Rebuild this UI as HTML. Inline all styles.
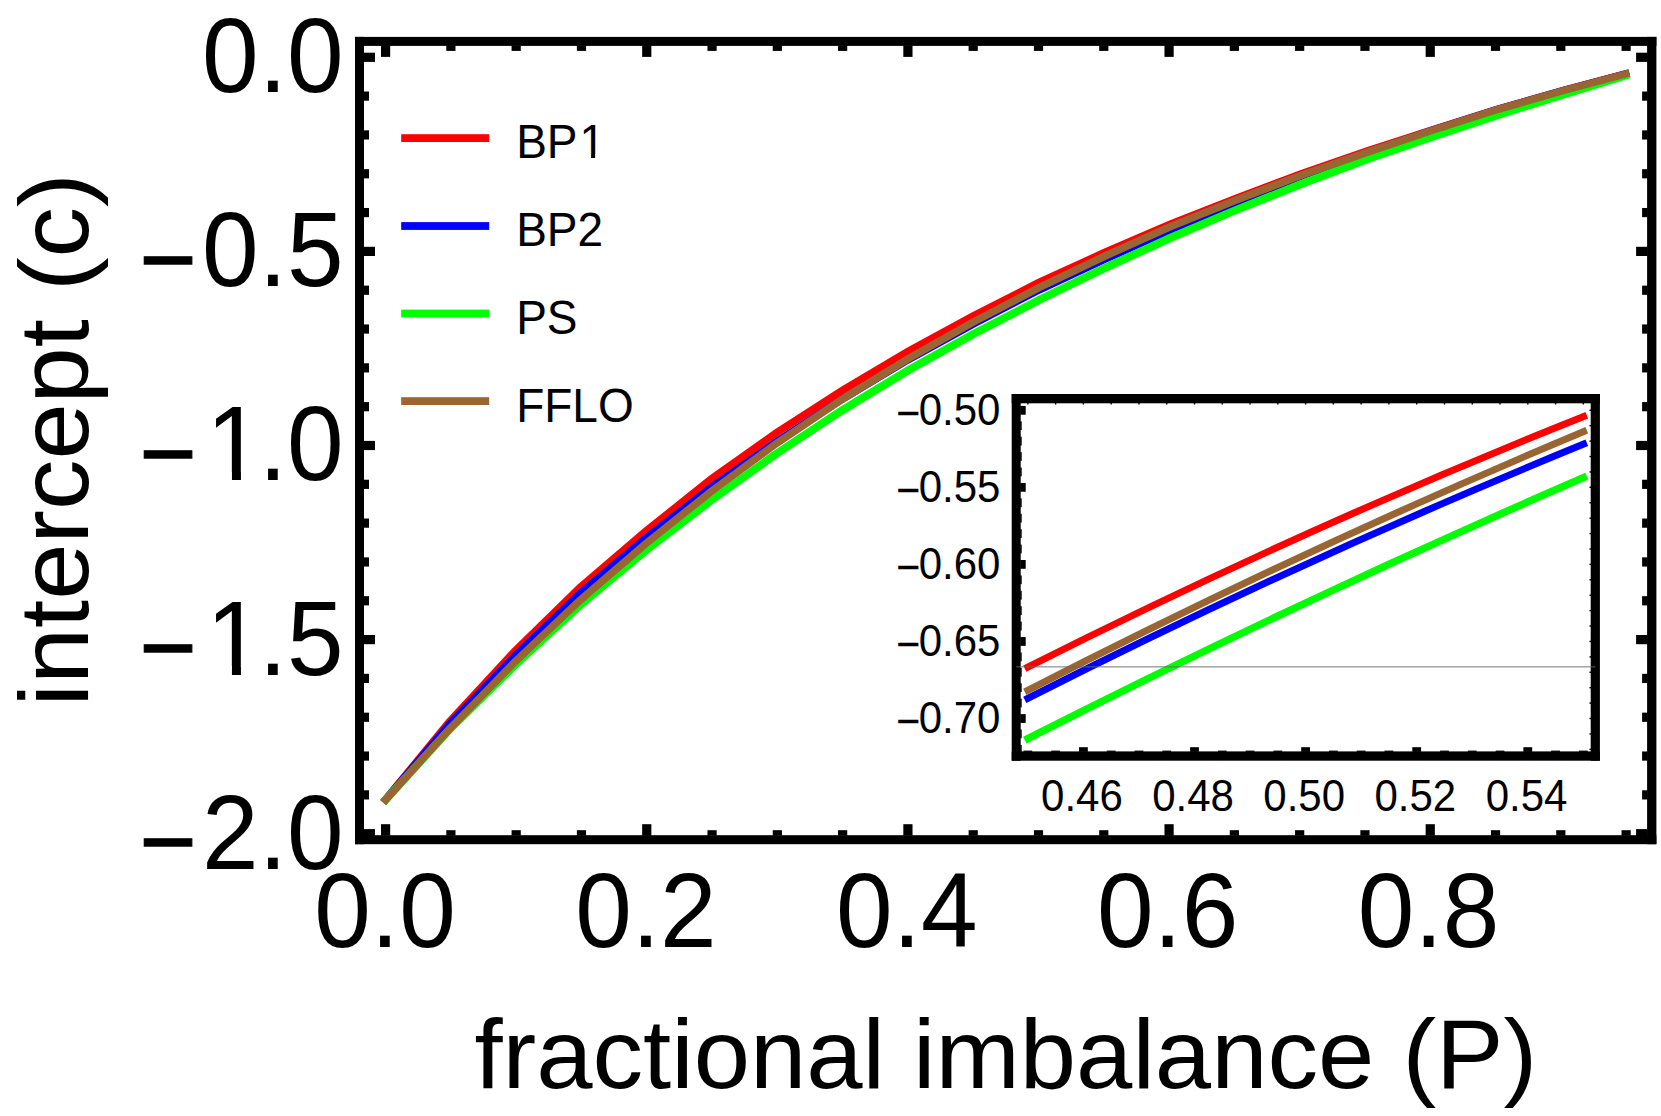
<!DOCTYPE html>
<html lang="en"><head><meta charset="utf-8"><title>intercept (c) vs fractional imbalance (P)</title>
<style>html,body{margin:0;padding:0;background:#ffffff;}body{width:1661px;height:1116px;overflow:hidden;}svg{display:block;}</style>
</head><body>
<svg width="1661" height="1116" viewBox="0 0 1661 1116">
<rect x="0" y="0" width="1661" height="1116" fill="#ffffff"/>
<g id="curves">
<polyline points="383.20,802.50 448.78,722.50 514.36,651.60 579.94,587.50 645.52,531.50 711.10,479.00 776.68,432.65 842.26,390.50 907.84,351.40 973.42,315.75 1039.00,282.50 1104.58,252.50 1170.16,224.10 1235.74,198.45 1301.32,173.70 1366.90,151.10 1432.48,129.70 1498.06,109.00 1563.64,90.30 1629.30,73.00" fill="none" stroke="#ff0000" stroke-width="7.5" stroke-linejoin="miter"/>
<polyline points="383.20,802.50 448.78,724.90 514.36,656.65 579.94,593.60 645.52,538.50 711.10,487.50 776.68,441.65 842.26,399.20 907.84,359.90 973.42,323.90 1039.00,290.00 1104.58,259.45 1170.16,230.10 1235.74,202.45 1301.32,175.90 1366.90,152.80 1432.48,130.40 1498.06,109.30 1563.64,90.50 1629.30,73.00" fill="none" stroke="#0000ff" stroke-width="7.5" stroke-linejoin="miter"/>
<polyline points="383.20,802.50 448.78,730.20 514.36,665.55 579.94,605.20 645.52,550.60 711.10,500.35 776.68,453.50 842.26,410.25 907.84,370.55 973.42,334.05 1039.00,300.00 1104.58,268.15 1170.16,238.00 1235.74,210.15 1301.32,183.95 1366.90,159.30 1432.48,136.75 1498.06,114.85 1563.64,94.35 1629.30,74.40" fill="none" stroke="#00ff00" stroke-width="8.0" stroke-linejoin="miter"/>
<polyline points="383.20,802.50 448.78,729.70 514.36,662.30 579.94,600.30 645.52,543.90 711.10,491.50 776.68,443.30 842.26,399.20 907.84,359.10 973.42,321.95 1039.00,287.70 1104.58,256.25 1170.16,226.80 1235.74,200.25 1301.32,175.15 1366.90,152.40 1432.48,130.20 1498.06,109.30 1563.64,90.50 1629.30,73.00" fill="none" stroke="#996633" stroke-width="7.5" stroke-linejoin="miter"/>
</g>
<g id="frame" fill="#000000">
<rect x="355.00" y="36.90" width="9.00" height="807.30"/>
<rect x="1647.10" y="36.90" width="9.30" height="807.30"/>
<rect x="355.00" y="36.90" width="1301.40" height="9.00"/>
<rect x="355.00" y="835.20" width="1301.40" height="9.00"/>
<rect x="381.00" y="45.40" width="9.20" height="11.50"/>
<rect x="381.00" y="824.20" width="9.20" height="11.50"/>
<rect x="446.29" y="45.40" width="9.20" height="5.50"/>
<rect x="446.29" y="830.20" width="9.20" height="5.50"/>
<rect x="511.58" y="45.40" width="9.20" height="5.50"/>
<rect x="511.58" y="830.20" width="9.20" height="5.50"/>
<rect x="576.87" y="45.40" width="9.20" height="5.50"/>
<rect x="576.87" y="830.20" width="9.20" height="5.50"/>
<rect x="642.16" y="45.40" width="9.20" height="11.50"/>
<rect x="642.16" y="824.20" width="9.20" height="11.50"/>
<rect x="707.45" y="45.40" width="9.20" height="5.50"/>
<rect x="707.45" y="830.20" width="9.20" height="5.50"/>
<rect x="772.74" y="45.40" width="9.20" height="5.50"/>
<rect x="772.74" y="830.20" width="9.20" height="5.50"/>
<rect x="838.03" y="45.40" width="9.20" height="5.50"/>
<rect x="838.03" y="830.20" width="9.20" height="5.50"/>
<rect x="903.32" y="45.40" width="9.20" height="11.50"/>
<rect x="903.32" y="824.20" width="9.20" height="11.50"/>
<rect x="968.61" y="45.40" width="9.20" height="5.50"/>
<rect x="968.61" y="830.20" width="9.20" height="5.50"/>
<rect x="1033.90" y="45.40" width="9.20" height="5.50"/>
<rect x="1033.90" y="830.20" width="9.20" height="5.50"/>
<rect x="1099.19" y="45.40" width="9.20" height="5.50"/>
<rect x="1099.19" y="830.20" width="9.20" height="5.50"/>
<rect x="1164.48" y="45.40" width="9.20" height="11.50"/>
<rect x="1164.48" y="824.20" width="9.20" height="11.50"/>
<rect x="1229.77" y="45.40" width="9.20" height="5.50"/>
<rect x="1229.77" y="830.20" width="9.20" height="5.50"/>
<rect x="1295.06" y="45.40" width="9.20" height="5.50"/>
<rect x="1295.06" y="830.20" width="9.20" height="5.50"/>
<rect x="1360.35" y="45.40" width="9.20" height="5.50"/>
<rect x="1360.35" y="830.20" width="9.20" height="5.50"/>
<rect x="1425.64" y="45.40" width="9.20" height="11.50"/>
<rect x="1425.64" y="824.20" width="9.20" height="11.50"/>
<rect x="1490.93" y="45.40" width="9.20" height="5.50"/>
<rect x="1490.93" y="830.20" width="9.20" height="5.50"/>
<rect x="1556.22" y="45.40" width="9.20" height="5.50"/>
<rect x="1556.22" y="830.20" width="9.20" height="5.50"/>
<rect x="1621.51" y="45.40" width="9.20" height="5.50"/>
<rect x="1621.51" y="830.20" width="9.20" height="5.50"/>
<rect x="363.50" y="52.70" width="11.50" height="9.20"/>
<rect x="1636.10" y="52.70" width="11.50" height="9.20"/>
<rect x="363.50" y="91.52" width="5.50" height="9.20"/>
<rect x="1642.10" y="91.52" width="5.50" height="9.20"/>
<rect x="363.50" y="130.34" width="5.50" height="9.20"/>
<rect x="1642.10" y="130.34" width="5.50" height="9.20"/>
<rect x="363.50" y="169.16" width="5.50" height="9.20"/>
<rect x="1642.10" y="169.16" width="5.50" height="9.20"/>
<rect x="363.50" y="207.98" width="5.50" height="9.20"/>
<rect x="1642.10" y="207.98" width="5.50" height="9.20"/>
<rect x="363.50" y="246.80" width="11.50" height="9.20"/>
<rect x="1636.10" y="246.80" width="11.50" height="9.20"/>
<rect x="363.50" y="285.62" width="5.50" height="9.20"/>
<rect x="1642.10" y="285.62" width="5.50" height="9.20"/>
<rect x="363.50" y="324.44" width="5.50" height="9.20"/>
<rect x="1642.10" y="324.44" width="5.50" height="9.20"/>
<rect x="363.50" y="363.26" width="5.50" height="9.20"/>
<rect x="1642.10" y="363.26" width="5.50" height="9.20"/>
<rect x="363.50" y="402.08" width="5.50" height="9.20"/>
<rect x="1642.10" y="402.08" width="5.50" height="9.20"/>
<rect x="363.50" y="440.90" width="11.50" height="9.20"/>
<rect x="1636.10" y="440.90" width="11.50" height="9.20"/>
<rect x="363.50" y="479.72" width="5.50" height="9.20"/>
<rect x="1642.10" y="479.72" width="5.50" height="9.20"/>
<rect x="363.50" y="518.54" width="5.50" height="9.20"/>
<rect x="1642.10" y="518.54" width="5.50" height="9.20"/>
<rect x="363.50" y="557.36" width="5.50" height="9.20"/>
<rect x="1642.10" y="557.36" width="5.50" height="9.20"/>
<rect x="363.50" y="596.18" width="5.50" height="9.20"/>
<rect x="1642.10" y="596.18" width="5.50" height="9.20"/>
<rect x="363.50" y="635.00" width="11.50" height="9.20"/>
<rect x="1636.10" y="635.00" width="11.50" height="9.20"/>
<rect x="363.50" y="673.82" width="5.50" height="9.20"/>
<rect x="1642.10" y="673.82" width="5.50" height="9.20"/>
<rect x="363.50" y="712.64" width="5.50" height="9.20"/>
<rect x="1642.10" y="712.64" width="5.50" height="9.20"/>
<rect x="363.50" y="751.46" width="5.50" height="9.20"/>
<rect x="1642.10" y="751.46" width="5.50" height="9.20"/>
<rect x="363.50" y="790.28" width="5.50" height="9.20"/>
<rect x="1642.10" y="790.28" width="5.50" height="9.20"/>
<rect x="363.50" y="829.10" width="11.50" height="9.20"/>
<rect x="1636.10" y="829.10" width="11.50" height="9.20"/>
</g>
<g id="ylabels">
<text transform="translate(343.60,92.10) scale(1,1.033)" font-family="Liberation Sans, Arial, Helvetica, sans-serif" font-size="101.80" text-anchor="end" fill="#000">0.0</text>
<text transform="translate(0,286.25) scale(1,1.033)" font-family="Liberation Sans, Arial, Helvetica, sans-serif" font-size="101.80" fill="#000"><tspan x="139.48" y="7.03" font-size="97.73" stroke="#000" stroke-width="1.20">−</tspan><tspan x="202.08" y="0">0.5</tspan></text>
<text transform="translate(0,480.40) scale(1,1.033)" font-family="Liberation Sans, Arial, Helvetica, sans-serif" font-size="101.80" fill="#000"><tspan x="139.48" y="7.03" font-size="97.73" stroke="#000" stroke-width="1.20">−</tspan><tspan x="206.35" y="0">1</tspan><tspan x="258.70" y="0">.0</tspan></text>
<rect x="211.44" y="471.94" width="20.51" height="9.46" fill="#ffffff"/>
<rect x="240.94" y="471.94" width="19.34" height="9.46" fill="#ffffff"/>
<text transform="translate(0,674.55) scale(1,1.033)" font-family="Liberation Sans, Arial, Helvetica, sans-serif" font-size="101.80" fill="#000"><tspan x="139.48" y="7.03" font-size="97.73" stroke="#000" stroke-width="1.20">−</tspan><tspan x="206.35" y="0">1</tspan><tspan x="258.70" y="0">.5</tspan></text>
<rect x="211.44" y="666.09" width="20.51" height="9.46" fill="#ffffff"/>
<rect x="240.94" y="666.09" width="19.34" height="9.46" fill="#ffffff"/>
<text transform="translate(0,868.70) scale(1,1.033)" font-family="Liberation Sans, Arial, Helvetica, sans-serif" font-size="101.80" fill="#000"><tspan x="139.48" y="7.03" font-size="97.73" stroke="#000" stroke-width="1.20">−</tspan><tspan x="202.08" y="0">2.0</tspan></text>
</g>
<g id="xlabels">
<text transform="translate(385.00,947.00) scale(1,1.033)" font-family="Liberation Sans, Arial, Helvetica, sans-serif" font-size="101.80" text-anchor="middle" fill="#000">0.0</text>
<text transform="translate(645.90,947.00) scale(1,1.033)" font-family="Liberation Sans, Arial, Helvetica, sans-serif" font-size="101.80" text-anchor="middle" fill="#000">0.2</text>
<text transform="translate(906.80,947.00) scale(1,1.033)" font-family="Liberation Sans, Arial, Helvetica, sans-serif" font-size="101.80" text-anchor="middle" fill="#000">0.4</text>
<text transform="translate(1167.70,947.00) scale(1,1.033)" font-family="Liberation Sans, Arial, Helvetica, sans-serif" font-size="101.80" text-anchor="middle" fill="#000">0.6</text>
<text transform="translate(1428.60,947.00) scale(1,1.033)" font-family="Liberation Sans, Arial, Helvetica, sans-serif" font-size="101.80" text-anchor="middle" fill="#000">0.8</text>
</g>
<text transform="translate(474.4,1088.4) scale(1,0.979)" font-family="Liberation Sans, Arial, Helvetica, sans-serif" font-size="101.2" fill="#000">fractional imbalance (P)</text>
<text transform="translate(87.8,706.5) rotate(-90) scale(1,0.979)" font-family="Liberation Sans, Arial, Helvetica, sans-serif" font-size="101" fill="#000">intercept (c)</text>
<g id="legend">
<rect x="401.2" y="134.20" width="88.0" height="7.8" fill="#ff0000"/>
<text transform="translate(0,158.20) scale(1,1.040)" font-family="Liberation Sans, Arial, Helvetica, sans-serif" font-size="46.00" fill="#000"><tspan x="516.20" y="0">BP</tspan><tspan x="579.50" y="0">1</tspan></text>
<rect x="581.80" y="154.03" width="9.27" height="5.17" fill="#ffffff"/>
<rect x="595.13" y="154.03" width="8.74" height="5.17" fill="#ffffff"/>
<rect x="401.2" y="222.10" width="88.0" height="7.8" fill="#0000ff"/>
<text transform="translate(516.20,246.05) scale(1,1.040)" font-family="Liberation Sans, Arial, Helvetica, sans-serif" font-size="46.00" text-anchor="start" fill="#000">BP2</text>
<rect x="401.2" y="309.60" width="88.0" height="7.8" fill="#00ff00"/>
<text transform="translate(516.20,333.90) scale(1,1.040)" font-family="Liberation Sans, Arial, Helvetica, sans-serif" font-size="46.00" text-anchor="start" fill="#000">PS</text>
<rect x="401.2" y="397.20" width="88.0" height="7.8" fill="#996633"/>
<text transform="translate(516.20,421.75) scale(1,1.040)" font-family="Liberation Sans, Arial, Helvetica, sans-serif" font-size="46.00" text-anchor="start" fill="#000">FFLO</text>
</g>
<g id="inset">
<rect x="1011.70" y="394.00" width="588.20" height="366.70" fill="#ffffff"/>
<path d="M1024.80 668.60 Q1305.80 526.90 1586.80 415.20" fill="none" stroke="#ff0000" stroke-width="7.0"/>
<path d="M1024.80 699.90 Q1305.80 557.45 1586.80 442.80" fill="none" stroke="#0000ff" stroke-width="7.0"/>
<path d="M1024.80 740.10 Q1305.80 597.45 1586.80 476.20" fill="none" stroke="#00ff00" stroke-width="7.4"/>
<path d="M1024.80 691.90 Q1305.80 547.75 1586.80 430.20" fill="none" stroke="#996633" stroke-width="7.0"/>
<g fill="#000000">
<rect x="1011.70" y="394.00" width="9.00" height="366.70"/>
<rect x="1590.70" y="394.00" width="9.20" height="366.70"/>
<rect x="1011.70" y="394.00" width="588.20" height="9.30"/>
<rect x="1011.70" y="751.40" width="588.20" height="9.30"/>
<rect x="1020.20" y="405.90" width="5.50" height="8.80"/>
<rect x="1589.50" y="409.60" width="1.70" height="1.40"/>
<rect x="1020.20" y="421.31" width="1.50" height="8.80"/>
<rect x="1589.50" y="425.01" width="1.70" height="1.40"/>
<rect x="1020.20" y="436.72" width="1.50" height="8.80"/>
<rect x="1589.50" y="440.42" width="1.70" height="1.40"/>
<rect x="1020.20" y="452.13" width="1.50" height="8.80"/>
<rect x="1589.50" y="455.83" width="1.70" height="1.40"/>
<rect x="1020.20" y="467.54" width="1.50" height="8.80"/>
<rect x="1589.50" y="471.24" width="1.70" height="1.40"/>
<rect x="1020.20" y="482.95" width="5.50" height="8.80"/>
<rect x="1589.50" y="486.65" width="1.70" height="1.40"/>
<rect x="1020.20" y="498.36" width="1.50" height="8.80"/>
<rect x="1589.50" y="502.06" width="1.70" height="1.40"/>
<rect x="1020.20" y="513.77" width="1.50" height="8.80"/>
<rect x="1589.50" y="517.47" width="1.70" height="1.40"/>
<rect x="1020.20" y="529.18" width="1.50" height="8.80"/>
<rect x="1589.50" y="532.88" width="1.70" height="1.40"/>
<rect x="1020.20" y="544.59" width="1.50" height="8.80"/>
<rect x="1589.50" y="548.29" width="1.70" height="1.40"/>
<rect x="1020.20" y="560.00" width="5.50" height="8.80"/>
<rect x="1589.50" y="563.70" width="1.70" height="1.40"/>
<rect x="1020.20" y="575.41" width="1.50" height="8.80"/>
<rect x="1589.50" y="579.11" width="1.70" height="1.40"/>
<rect x="1020.20" y="590.82" width="1.50" height="8.80"/>
<rect x="1589.50" y="594.52" width="1.70" height="1.40"/>
<rect x="1020.20" y="606.23" width="1.50" height="8.80"/>
<rect x="1589.50" y="609.93" width="1.70" height="1.40"/>
<rect x="1020.20" y="621.64" width="1.50" height="8.80"/>
<rect x="1589.50" y="625.34" width="1.70" height="1.40"/>
<rect x="1020.20" y="637.05" width="5.50" height="8.80"/>
<rect x="1589.50" y="640.75" width="1.70" height="1.40"/>
<rect x="1020.20" y="652.46" width="1.50" height="8.80"/>
<rect x="1589.50" y="656.16" width="1.70" height="1.40"/>
<rect x="1020.20" y="667.87" width="1.50" height="8.80"/>
<rect x="1589.50" y="671.57" width="1.70" height="1.40"/>
<rect x="1020.20" y="683.28" width="1.50" height="8.80"/>
<rect x="1589.50" y="686.98" width="1.70" height="1.40"/>
<rect x="1020.20" y="698.69" width="1.50" height="8.80"/>
<rect x="1589.50" y="702.39" width="1.70" height="1.40"/>
<rect x="1020.20" y="714.10" width="5.50" height="8.80"/>
<rect x="1589.50" y="717.80" width="1.70" height="1.40"/>
<rect x="1020.20" y="729.51" width="1.50" height="8.80"/>
<rect x="1589.50" y="733.21" width="1.70" height="1.40"/>
<rect x="1020.20" y="744.92" width="1.50" height="8.80"/>
<rect x="1589.50" y="748.62" width="1.70" height="1.40"/>
<rect x="1023.45" y="750.60" width="8.80" height="1.30"/>
<rect x="1027.15" y="402.80" width="1.40" height="1.70"/>
<rect x="1051.22" y="750.60" width="8.80" height="1.30"/>
<rect x="1054.92" y="402.80" width="1.40" height="1.70"/>
<rect x="1079.00" y="747.20" width="8.80" height="4.70"/>
<rect x="1082.70" y="402.80" width="1.40" height="1.70"/>
<rect x="1106.78" y="750.60" width="8.80" height="1.30"/>
<rect x="1110.48" y="402.80" width="1.40" height="1.70"/>
<rect x="1134.55" y="750.60" width="8.80" height="1.30"/>
<rect x="1138.25" y="402.80" width="1.40" height="1.70"/>
<rect x="1162.33" y="750.60" width="8.80" height="1.30"/>
<rect x="1166.03" y="402.80" width="1.40" height="1.70"/>
<rect x="1190.10" y="747.20" width="8.80" height="4.70"/>
<rect x="1193.80" y="402.80" width="1.40" height="1.70"/>
<rect x="1217.88" y="750.60" width="8.80" height="1.30"/>
<rect x="1221.58" y="402.80" width="1.40" height="1.70"/>
<rect x="1245.65" y="750.60" width="8.80" height="1.30"/>
<rect x="1249.35" y="402.80" width="1.40" height="1.70"/>
<rect x="1273.42" y="750.60" width="8.80" height="1.30"/>
<rect x="1277.12" y="402.80" width="1.40" height="1.70"/>
<rect x="1301.20" y="747.20" width="8.80" height="4.70"/>
<rect x="1304.90" y="402.80" width="1.40" height="1.70"/>
<rect x="1328.97" y="750.60" width="8.80" height="1.30"/>
<rect x="1332.67" y="402.80" width="1.40" height="1.70"/>
<rect x="1356.75" y="750.60" width="8.80" height="1.30"/>
<rect x="1360.45" y="402.80" width="1.40" height="1.70"/>
<rect x="1384.53" y="750.60" width="8.80" height="1.30"/>
<rect x="1388.23" y="402.80" width="1.40" height="1.70"/>
<rect x="1412.30" y="747.20" width="8.80" height="4.70"/>
<rect x="1416.00" y="402.80" width="1.40" height="1.70"/>
<rect x="1440.08" y="750.60" width="8.80" height="1.30"/>
<rect x="1443.78" y="402.80" width="1.40" height="1.70"/>
<rect x="1467.85" y="750.60" width="8.80" height="1.30"/>
<rect x="1471.55" y="402.80" width="1.40" height="1.70"/>
<rect x="1495.62" y="750.60" width="8.80" height="1.30"/>
<rect x="1499.33" y="402.80" width="1.40" height="1.70"/>
<rect x="1523.40" y="747.20" width="8.80" height="4.70"/>
<rect x="1527.10" y="402.80" width="1.40" height="1.70"/>
<rect x="1551.17" y="750.60" width="8.80" height="1.30"/>
<rect x="1554.88" y="402.80" width="1.40" height="1.70"/>
<rect x="1578.95" y="750.60" width="8.80" height="1.30"/>
<rect x="1582.65" y="402.80" width="1.40" height="1.70"/>
</g>
<rect x="1016.2" y="666.05" width="579.2" height="1.5" fill="#666666" fill-opacity="0.6"/>
<text transform="translate(0,424.50) scale(1,1.060)" font-family="Liberation Sans, Arial, Helvetica, sans-serif" font-size="42.00" fill="#000"><tspan x="896.46" y="3.17" font-size="40.32" stroke="#000" stroke-width="0.50">−</tspan><tspan x="918.65" y="0">0.50</tspan></text>
<text transform="translate(0,501.55) scale(1,1.060)" font-family="Liberation Sans, Arial, Helvetica, sans-serif" font-size="42.00" fill="#000"><tspan x="896.46" y="3.17" font-size="40.32" stroke="#000" stroke-width="0.50">−</tspan><tspan x="918.65" y="0">0.55</tspan></text>
<text transform="translate(0,578.60) scale(1,1.060)" font-family="Liberation Sans, Arial, Helvetica, sans-serif" font-size="42.00" fill="#000"><tspan x="896.46" y="3.17" font-size="40.32" stroke="#000" stroke-width="0.50">−</tspan><tspan x="918.65" y="0">0.60</tspan></text>
<text transform="translate(0,655.65) scale(1,1.060)" font-family="Liberation Sans, Arial, Helvetica, sans-serif" font-size="42.00" fill="#000"><tspan x="896.46" y="3.17" font-size="40.32" stroke="#000" stroke-width="0.50">−</tspan><tspan x="918.65" y="0">0.65</tspan></text>
<text transform="translate(0,732.70) scale(1,1.060)" font-family="Liberation Sans, Arial, Helvetica, sans-serif" font-size="42.00" fill="#000"><tspan x="896.46" y="3.17" font-size="40.32" stroke="#000" stroke-width="0.50">−</tspan><tspan x="918.65" y="0">0.70</tspan></text>
<text transform="translate(1081.90,811.40) scale(1,1.060)" font-family="Liberation Sans, Arial, Helvetica, sans-serif" font-size="42.00" text-anchor="middle" fill="#000">0.46</text>
<text transform="translate(1193.05,811.40) scale(1,1.060)" font-family="Liberation Sans, Arial, Helvetica, sans-serif" font-size="42.00" text-anchor="middle" fill="#000">0.48</text>
<text transform="translate(1304.20,811.40) scale(1,1.060)" font-family="Liberation Sans, Arial, Helvetica, sans-serif" font-size="42.00" text-anchor="middle" fill="#000">0.50</text>
<text transform="translate(1415.35,811.40) scale(1,1.060)" font-family="Liberation Sans, Arial, Helvetica, sans-serif" font-size="42.00" text-anchor="middle" fill="#000">0.52</text>
<text transform="translate(1526.50,811.40) scale(1,1.060)" font-family="Liberation Sans, Arial, Helvetica, sans-serif" font-size="42.00" text-anchor="middle" fill="#000">0.54</text>
</g>
</svg>
</body></html>
